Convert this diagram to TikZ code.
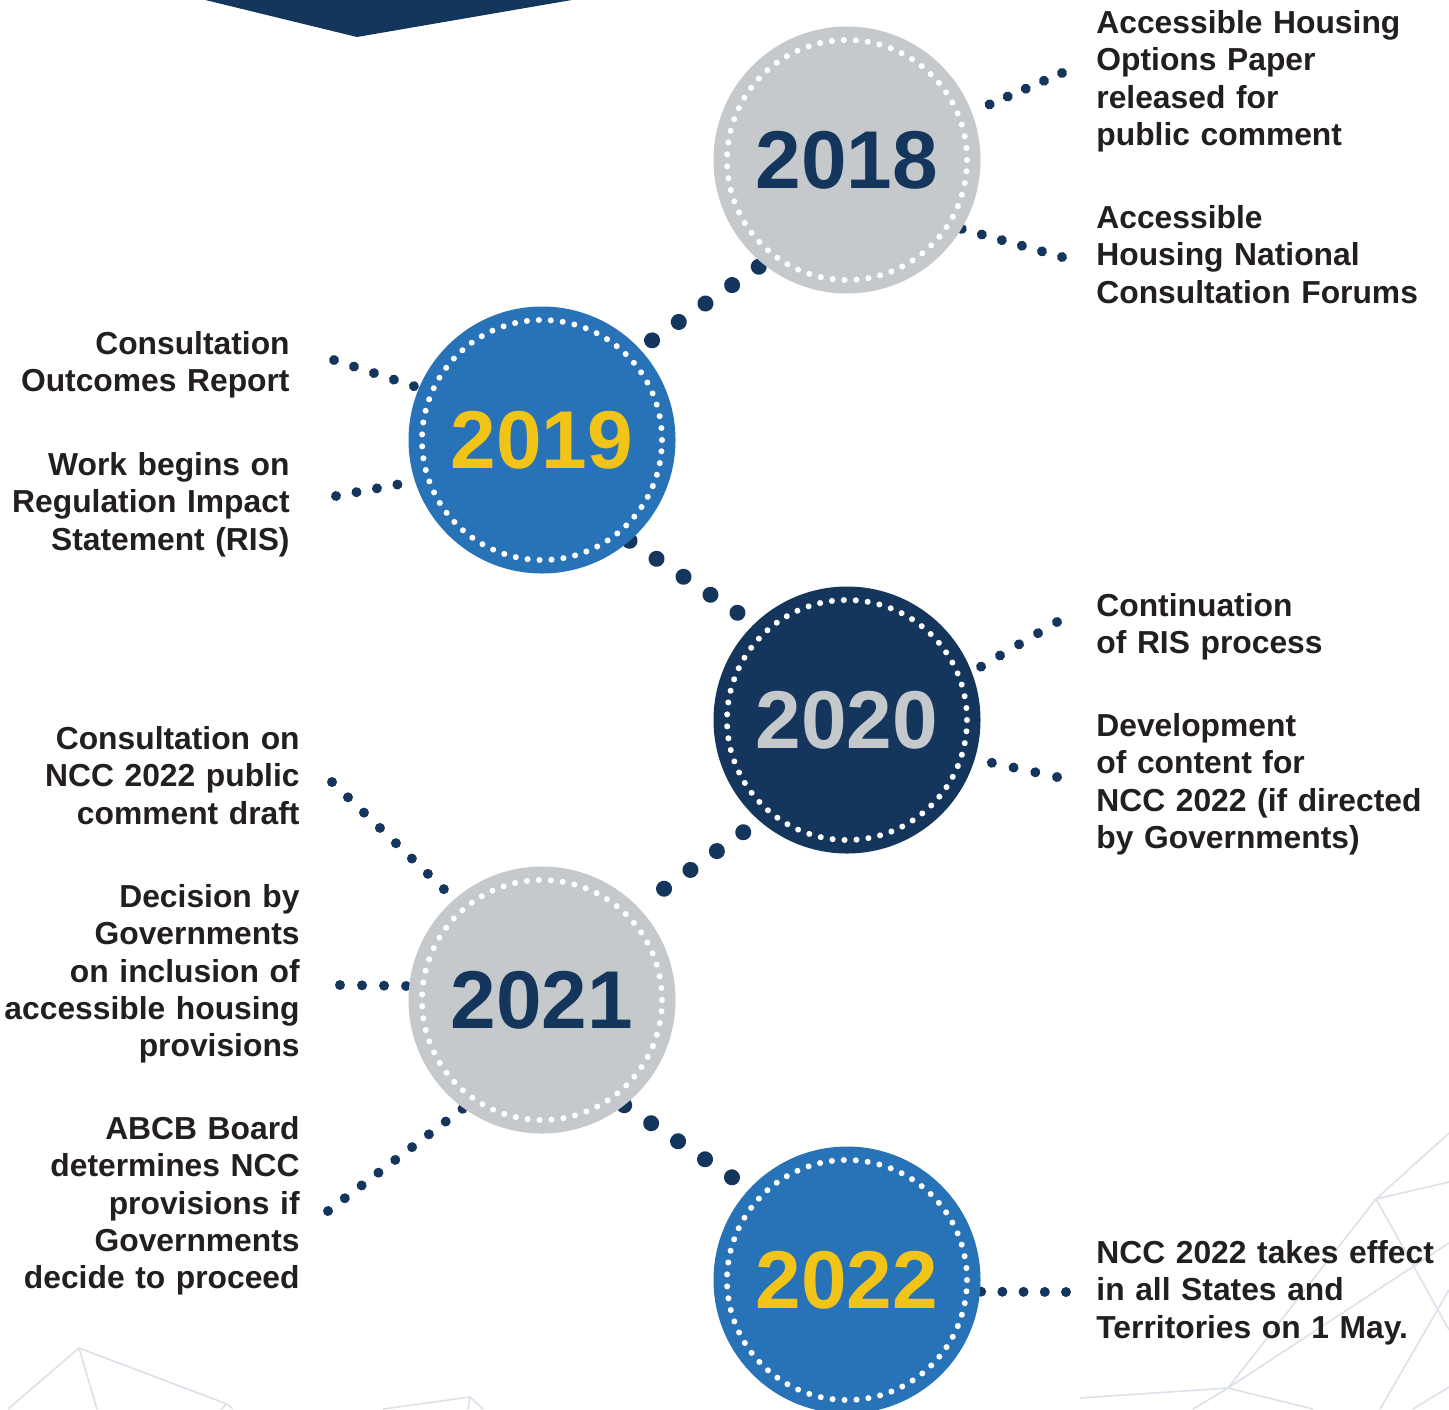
\documentclass[tikz,border=0pt]{standalone}
\usepackage{fontspec}
\setmainfont{Liberation Sans}
\usetikzlibrary{backgrounds}
\definecolor{navy}{HTML}{14365D}
\definecolor{ballgrey}{HTML}{C6C9CC}
\definecolor{ballblue}{HTML}{2873B7}
\definecolor{gold}{HTML}{F2C418}
\definecolor{ink}{HTML}{231F20}
\definecolor{mesh}{HTML}{DCE1E9}

\begin{document}
\begin{tikzpicture}[x=0.5pt,y=-0.5pt,
    yearball/.style={circle, minimum size=133.5pt, inner sep=0pt, outer sep=0pt,
      font=\fontsize{41pt}{41pt}\selectfont\bfseries,
      path picture={\draw[white, line width=3pt, line cap=round,
        dash pattern=on 0.01pt off 5.98pt]
        (path picture bounding box.center) circle[radius=60pt];}},
    bigdots/.style={navy, line width=8pt, line cap=round, dash pattern=on 0.01pt off 16.2pt},
    smalldots/.style={navy, line width=5pt, line cap=round, dash pattern=on 0.01pt off #1},
    lefttext/.style={anchor=base east, text width=150pt, align=right, inner sep=0pt,
      text=ink, font=\fontsize{15.9pt}{18.65pt}\selectfont\bfseries},
    righttext/.style={anchor=base west, text width=175pt, align=left, inner sep=0pt,
      text=ink, font=\fontsize{15.9pt}{18.65pt}\selectfont\bfseries}]
  \useasboundingbox (0,0) rectangle (1449,1409);

  % banner tip
  \fill[navy] (189,-4) -- (357,37) -- (595,-4) -- cycle;

  % years
  \node[yearball, fill=ballgrey, text=navy] (y18) at (847,160) {2018};
  \node[yearball, fill=ballblue, text=gold] (y19) at (542,440) {2019};
  \node[yearball, fill=navy, text=ballgrey] (y20) at (847,720) {2020};
  \node[yearball, fill=ballgrey, text=navy] (y21) at (542,1000) {2021};
  \node[yearball, fill=ballblue, text=gold] (y22) at (847,1280) {2022};

  % events
  \node[righttext] (t18a) at (1096,33.4) {Accessible Housing\\Options Paper\\released for\\public comment};
  \node[righttext] (t18b) at (1096,228.4) {Accessible\\Housing National\\Consultation Forums};
  \node[lefttext] (t19a) at (290,354.4) {Consultation\\Outcomes Report};
  \node[lefttext] (t19b) at (290,475.4) {Work begins on\\Regulation Impact\\Statement (RIS)};
  \node[righttext] (t20a) at (1096,616.4) {Continuation\\of RIS process};
  \node[righttext] (t20b) at (1096,736.4) {Development\\of content for\\NCC 2022 (if directed\\by Governments)};
  \node[lefttext] (t21a) at (300,749.4) {Consultation on\\NCC 2022 public\\comment draft};
  \node[lefttext] (t21b) at (300,907.4) {Decision by\\Governments\\on inclusion of\\accessible housing\\provisions};
  \node[lefttext] (t21c) at (300,1139.4) {ABCB Board\\determines NCC\\provisions if\\Governments\\decide to proceed};
  \node[righttext] (t22) at (1096,1263.4) {NCC 2022 takes effect\\in all States and\\Territories on 1 May.};

  % free ends of the side dots
  \coordinate (f18a) at (1062,73);
  \coordinate (f18b) at (1062,257);
  \coordinate (f19a) at (334,360);
  \coordinate (f19b) at (336,496);
  \coordinate (f20a) at (1057,622);
  \coordinate (f20b) at (1057,777);
  \coordinate (f21a) at (332,782);
  \coordinate (f21b) at (340,985);
  \coordinate (f21c) at (328,1211);
  \coordinate (f22) at (1066,1292);

  \begin{scope}[on background layer]
    \fill[white] (0,0) rectangle (1449,1409);
    % faint mesh
    \begin{scope}[mesh, line width=0.8pt]
      \draw (8,1409) -- (79,1348) -- (97,1409);
      \draw (79,1348) -- (227,1404) -- (221,1409);
      \draw (227,1404) -- (233,1409);
      \draw (383,1409) -- (470,1397) -- (468,1409);
      \draw (470,1397) -- (483,1409);
      \draw (1449,1133) -- (1376,1199) -- (1449,1182);
      \draw (1376,1199) -- (1228,1388);
      \draw (1376,1199) -- (1413,1265) -- (1449,1330);
      \draw (1449,1243) -- (1228,1388);
      \draw (1080,1398) -- (1228,1388) -- (1313,1409);
      \draw (1228,1388) -- (1193,1409);
      \draw (1449,1290) -- (1380,1409);
      \draw (1449,1387) -- (1413,1409);
    \end{scope}
    % year to year
    \draw[bigdots, dash phase=8.65pt] (y19.43) -- (y18.231);
    \draw[bigdots] (y19.311) -- (y20.134);
    \draw[bigdots, dash phase=6.3pt] (y20.229) -- (y21.44);
    \draw[bigdots] (y21.308) -- (y22.137);
    % year to event
    \draw[smalldots=9.85pt] (f18a) -- (y18.21);
    \draw[smalldots=10.4pt] (f18b) -- (y18.329);
    \draw[smalldots=10.5pt] (f19a) -- (y19.157);
    \draw[smalldots=10.4pt] (f19b) -- (y19.198);
    \draw[smalldots=11pt] (f20a) -- (y20.21);
    \draw[smalldots=11.1pt] (f20b) -- (y20.343);
    \draw[smalldots=11.05pt] (f21a) -- (y21.131);
    \draw[smalldots=11pt] (f21b) -- (y21.174);
    \draw[smalldots=10.55pt] (f21c) -- (y21.234);
    \draw[smalldots=10.6pt] (f22) -- (y22.355);
  \end{scope}
\end{tikzpicture}
\end{document}
